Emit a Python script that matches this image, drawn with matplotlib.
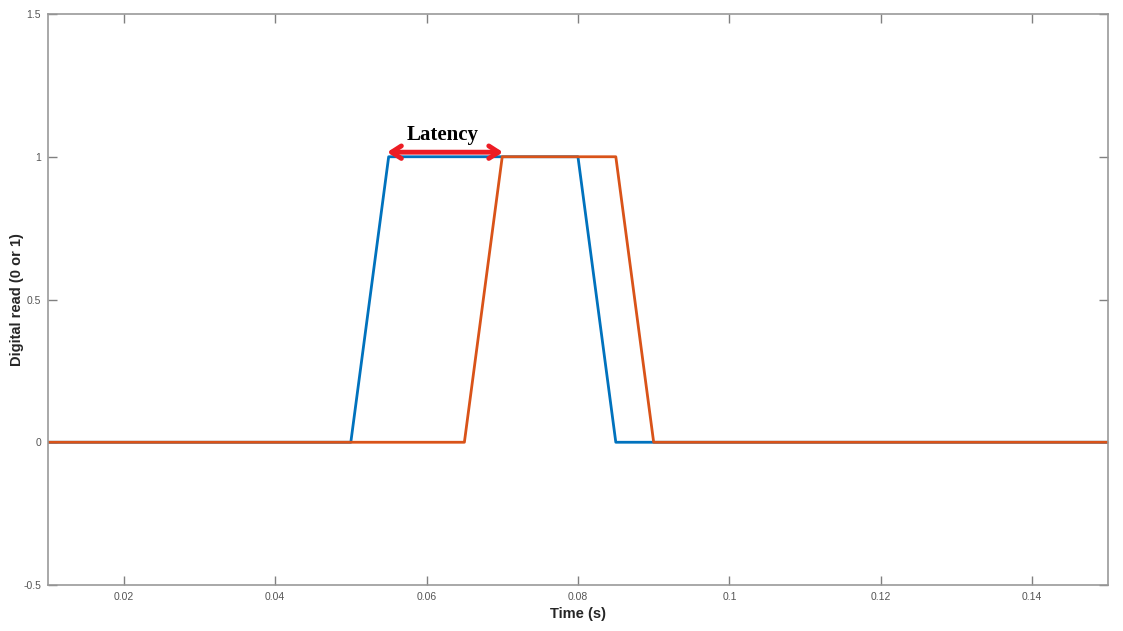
import matplotlib
matplotlib.use("Agg")
import matplotlib.pyplot as plt

plt.rcParams['font.family'] = ['Liberation Sans', 'DejaVu Sans']

blue_t = [0.0, 0.05, 0.055, 0.08, 0.085, 0.15]
blue_v = [0, 0, 1, 1, 0, 0]
orange_t = [0.0, 0.065, 0.07, 0.085, 0.09, 0.15]
orange_v = [0, 0, 1, 1, 0, 0]
xticks = [0.02, 0.04, 0.06, 0.08, 0.1, 0.12, 0.14]
xticklabels = ["0.02", "0.04", "0.06", "0.08", "0.1", "0.12", "0.14"]
yticks = [-0.5, 0, 0.5, 1, 1.5]
yticklabels = ["-0.5", "0", "0.5", "1", "1.5"]

fig = plt.figure(figsize=(11.23, 6.31), dpi=100)
ax = fig.add_axes([0.0427, 0.0729, 0.9439, 0.9049])
ax.plot(blue_t, blue_v, color="#0072BD", lw=2)
ax.plot(orange_t, orange_v, color="#D95319", lw=2)
ax.set_xlim(0.01, 0.15)
ax.set_ylim(-0.5, 1.5)
ax.set_xticks(xticks)
ax.set_xticklabels(xticklabels)
ax.set_yticks(yticks)
ax.set_yticklabels(yticklabels)
ax.tick_params(direction="in", top=True, right=True, labelsize=7.5, labelcolor="#555555",
               color="#808080", length=6.5, width=1, pad=5)
for s in ax.spines.values():
    s.set_color("#999999")
    s.set_linewidth(1.2)
ax.set_xlabel("Time (s)", fontsize=10.5, fontweight="bold", color="#262626")
ax.set_ylabel("Digital read (0 or 1)", fontsize=10.5, fontweight="bold", color="#262626")
ax.xaxis.set_label_coords(0.5, -0.0385)
ax.yaxis.set_label_coords(-0.0226, 0.5)

ax.annotate("", xy=(0.0548, 1.016), xytext=(0.0701, 1.016),
            arrowprops=dict(arrowstyle="<->,head_length=0.7,head_width=0.45", color="#ED1C24", lw=3.5,
                            shrinkA=0, shrinkB=0))
ax.text(0.0621, 1.076, "Latency", ha="center", va="center", fontsize=15,
        fontweight="bold", family="Liberation Serif", color="black")

fig.savefig("out.png", dpi=100)
